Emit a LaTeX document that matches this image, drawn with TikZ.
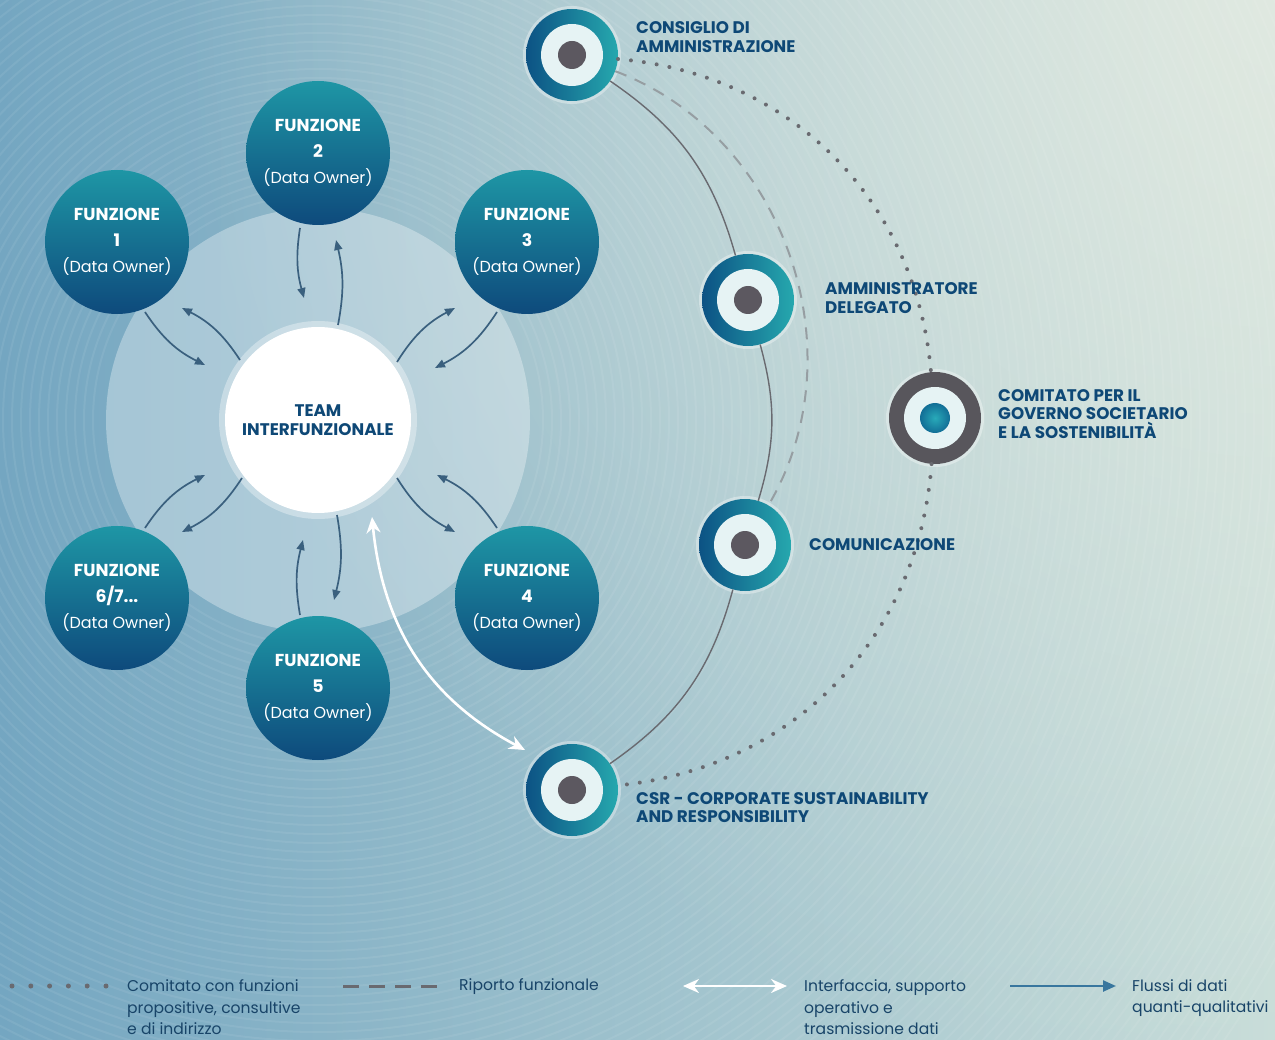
\documentclass[tikz,border=0pt]{standalone}
\usepackage{fontspec}
\setmainfont{Poppins}
\usetikzlibrary{arrows.meta,calc,fadings}
\definecolor{navy}{RGB}{14,72,118}
\definecolor{arrowc}{RGB}{58,96,126}
\definecolor{fteal}{RGB}{30,150,165}
\definecolor{fnavy}{RGB}{14,74,124}
\definecolor{ringdark}{RGB}{12,82,132}
\definecolor{ringteal}{RGB}{38,168,174}
\definecolor{innerpale}{RGB}{230,243,244}
\definecolor{dotgray}{RGB}{92,88,96}
\definecolor{ringgray}{RGB}{88,86,92}
\definecolor{arcgray}{RGB}{105,106,112}
\definecolor{dashgray}{RGB}{150,158,162}
\definecolor{legtext}{RGB}{24,68,104}
\definecolor{legblue}{RGB}{56,118,158}
\definecolor{dotblue}{RGB}{18,110,150}
\definecolor{dotlight}{RGB}{40,170,185}
\definecolor{bgL}{RGB}{116,166,193}
\definecolor{bgM}{RGB}{156,195,207}
\definecolor{bgR}{RGB}{200,221,217}
\definecolor{bgpale}{RGB}{228,235,226}
\tikzfading[name=softglow, inner color=transparent!0, outer color=transparent!100]
\tikzset{
  func/.style={circle, minimum size=144pt, inner sep=0pt, top color=fteal, bottom color=fnavy,
    text=white, align=center, font=\fontsize{16}{26}\selectfont},
  teamnode/.style={circle, minimum size=186pt, inner sep=0pt, fill=white, text=navy, align=center,
    font=\bfseries\fontsize{16.8}{18.5}\selectfont,
    preaction={draw=white, line width=12pt, opacity=0.35}},
  target/.style={circle, minimum size=92pt, inner sep=0pt, left color=ringdark, right color=ringteal,
    preaction={draw=white, line width=6pt, opacity=0.35},
    path picture={\fill[innerpale] (path picture bounding box.center) circle (31pt);
      \fill[dotgray] (path picture bounding box.center) circle (14pt);}},
  targetgray/.style={circle, minimum size=92pt, inner sep=0pt, fill=ringgray,
    preaction={draw=white, line width=6pt, opacity=0.35},
    path picture={\fill[innerpale] (path picture bounding box.center) circle (31pt);
      \shade[inner color=dotlight, outer color=dotblue] (path picture bounding box.center) circle (15pt);}},
  lab/.style={text=navy, font=\bfseries\fontsize{16.8}{18.5}\selectfont, align=left, inner sep=0pt, anchor=base west},
  legtxt/.style={text=legtext, font=\fontsize{15.6}{21.5}\selectfont, align=left, inner sep=0pt, anchor=base west},
  flow/.style={draw=arrowc, line width=1.7pt, -{Triangle[width=8pt,length=10pt]}},
  solidarc/.style={draw=arcgray, line width=1.4pt},
  dotarc/.style={draw=arcgray, line width=4pt, line cap=round, dash pattern=on 0pt off 13pt},
  dasharc/.style={draw=dashgray, line width=2pt, dash pattern=on 12pt off 9pt},
  whitearrow/.style={draw=white, line width=2.6pt, {Stealth[width=14pt,length=16pt]}-{Stealth[width=14pt,length=16pt]}},
}
\newcommand{\fb}[1]{{\bfseries\fontsize{17.3}{26}\selectfont #1}}
\begin{document}
\begin{tikzpicture}[x=1pt,y=1pt]
\useasboundingbox (0,-1040) rectangle (1275,0);
% background
\begin{scope}
  \clip (0,-1040) rectangle (1275,0);
  \shade[left color=bgL, middle color=bgM, right color=bgR] (0,-1040) rectangle (1275,0);
  \fill[bgpale, path fading=softglow, opacity=0.85] (1275,0) circle (1100);
  \foreach \r in {225,234,...,1100} {
    \draw[white, opacity=0.07, line width=2pt] (318,-420) circle (\r);
  }
\end{scope}
% pale halo behind team
\fill[white, opacity=0.32] (318,-420) circle (212);

% right-hand targets
\node[target] (cda) at (572,-55) {};
\node[target] (ad) at (748,-300) {};
\node[targetgray] (cgs) at (935,-418) {};
\node[target] (com) at (745,-545) {};
\node[target] (csr) at (572,-790) {};

% arcs
\draw[solidarc] (cda) to[bend left=20] (ad);
\draw[solidarc] (ad) to[bend left=16] (com);
\draw[solidarc] (com) to[bend left=20] (csr);
\draw[dasharc] (cda) to[bend left=50] (com);
\draw[dotarc] (cda) to[bend left=40] (cgs);
\draw[dotarc] (cgs) to[bend left=40] (csr);

% labels
\node[lab] (cdal) at (636,-52.5) {CONSIGLIO DI\\AMMINISTRAZIONE};
\node[lab] (adl) at (825,-313.5) {AMMINISTRATORE\\DELEGATO};
\node[lab] (cgsl) at (998,-438.5) {COMITATO PER IL\\GOVERNO SOCIETARIO\\E LA SOSTENIBILITÀ};
\node[lab] (coml) at (809,-550.5) {COMUNICAZIONE};
\node[lab] (csrl) at (636,-822.5) {CSR - CORPORATE SUSTAINABILITY\\AND RESPONSIBILITY};

% functions and team
\node[func] (f1) at (117,-242) {\fb{FUNZIONE}\\\fb{1}\\(Data Owner)};
\node[func] (f2) at (318,-153) {\fb{FUNZIONE}\\\fb{2}\\(Data Owner)};
\node[func] (f3) at (527,-242) {\fb{FUNZIONE}\\\fb{3}\\(Data Owner)};
\node[func] (f6) at (117,-598) {\fb{FUNZIONE}\\\fb{6/7...}\\(Data Owner)};
\node[func] (f5) at (318,-688) {\fb{FUNZIONE}\\\fb{5}\\(Data Owner)};
\node[func] (f4) at (527,-598) {\fb{FUNZIONE}\\\fb{4}\\(Data Owner)};
\node[teamnode] (team) at (318,-420) {TEAM\\INTERFUNZIONALE};

% data flows
\draw[flow] ($(f1)+(28,-70)$) to[bend right=15] ($(team)+(-113,55)$);
\draw[flow] ($(team)+(-78,60)$) to[bend right=15] ($(f1)+(65,-66)$);
\draw[flow] ($(f2)+(-18,-75)$) to[bend right=12] ($(team)+(-14,122)$);
\draw[flow] ($(team)+(20,95)$) to[bend right=12] ($(f2)+(18,-87)$);
\draw[flow] ($(team)+(79,58)$) to[bend left=15] ($(f3)+(-72,-66)$);
\draw[flow] ($(f3)+(-30,-70)$) to[bend left=15] ($(team)+(117,52)$);
\draw[flow] ($(f6)+(28,70)$) to[bend left=15] ($(team)+(-113,-55)$);
\draw[flow] ($(team)+(-76,-58)$) to[bend left=15] ($(f6)+(65,66)$);
\draw[flow] ($(f5)+(-18,73)$) to[bend left=12] ($(team)+(-15,-120)$);
\draw[flow] ($(team)+(19,-95)$) to[bend left=12] ($(f5)+(16,88)$);
\draw[flow] ($(team)+(79,-58)$) to[bend right=15] ($(f4)+(-72,66)$);
\draw[flow] ($(f4)+(-30,70)$) to[bend right=15] ($(team)+(119,-55)$);

% interface arrow
\draw[whitearrow] ($(team)+(54,-97)$) .. controls ($(team)+(67,-230)$) and ($(csr)+(-122,80)$) .. ($(csr)+(-47,40)$);

% legend
\coordinate (ldot1) at (12,-986);
\coordinate (ldot2) at (106,-986);
\draw[dotarc, dash pattern=on 0pt off 18.8pt, line width=5pt] (ldot1) -- (ldot2);
\node[legtxt] (lt1) at (127,-1034.5) {Comitato con funzioni\\propositive, consultive\\e di indirizzo};
\coordinate (ldash1) at (343,-986);
\coordinate (ldash2) at (437,-986);
\draw[draw=arcgray, line width=3pt, dash pattern=on 16pt off 10pt] (ldash1) -- (ldash2);
\node[legtxt] (lt2) at (459,-990.5) {Riporto funzionale};
\coordinate (lw1) at (683,-986);
\coordinate (lw2) at (787,-986);
\draw[whitearrow, line width=2.2pt] (lw1) -- (lw2);
\node[legtxt] (lt3) at (804,-1034.5) {Interfaccia, supporto\\operativo e\\trasmissione dati};
\coordinate (lb1) at (1010,-986);
\coordinate (lb2) at (1116,-986);
\draw[draw=legblue, line width=2.4pt, -{Triangle[width=11pt,length=13pt]}] (lb1) -- (lb2);
\node[legtxt] (lt4) at (1132,-1012.5) {Flussi di dati\\quanti-qualitativi};
\end{tikzpicture}
\end{document}
